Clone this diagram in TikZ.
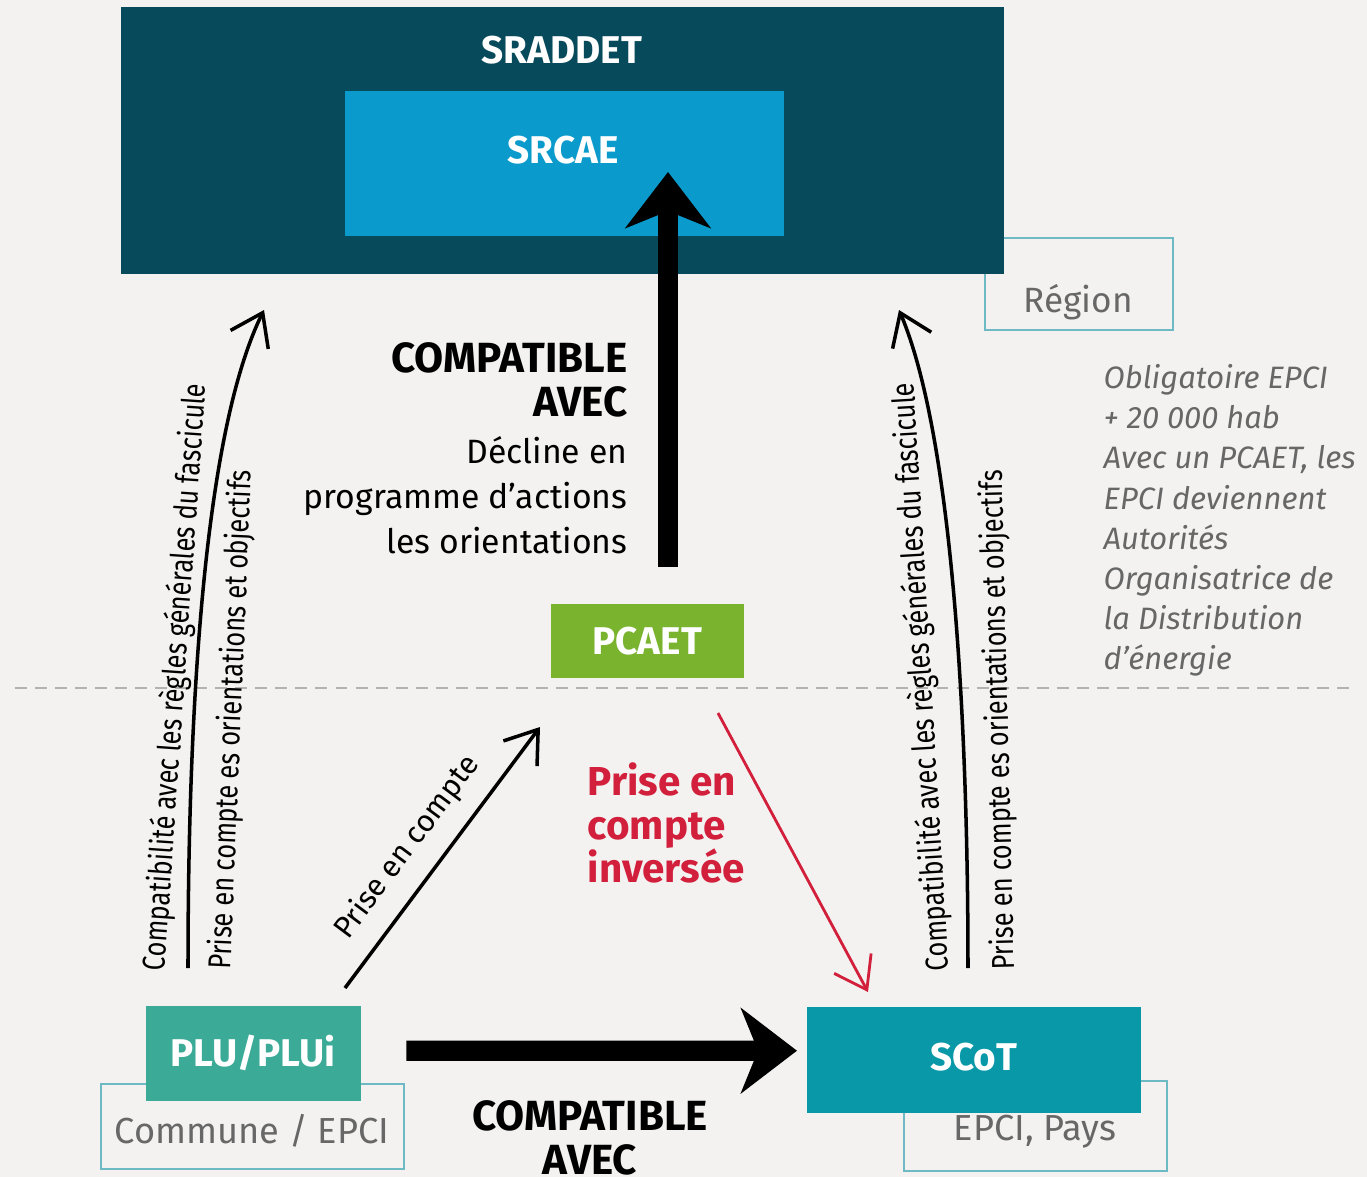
\documentclass[tikz,border=0pt]{standalone}
\usepackage{fontspec}
\setmainfont{Fira Sans}
\newfontfamily\condfont[FakeStretch=0.8]{Fira Sans}
\usepackage{tikz}
\usetikzlibrary{calc, arrows.meta, positioning}
\definecolor{bgcol}{HTML}{F3F2F0}
\definecolor{sraddetcol}{HTML}{074A5B}
\definecolor{srcaecol}{HTML}{0A9ACB}
\definecolor{pcaetcol}{HTML}{7AB32E}
\definecolor{plucol}{HTML}{3BAA97}
\definecolor{scotcol}{HTML}{0898A8}
\definecolor{framecol}{HTML}{6DBAC4}
\definecolor{greytxt}{HTML}{676767}
\definecolor{redcol}{HTML}{D21F3C}
\tikzstyle{block} = [rectangle, inner sep=0pt, text=white, font=\fontsize{11}{13}\selectfont\bfseries]
\tikzstyle{frame} = [rectangle, draw=framecol, line width=0.7pt, inner sep=0pt]
\tikzstyle{frametext} = [inner sep=0pt, text=greytxt, font=\fontsize{10.3}{12}\selectfont]
\tikzstyle{thinarrow} = [line width=1pt, -{Straight Barb[length=3mm,width=4.2mm]}]
\tikzstyle{bigarrow} = [line width=5.8pt, -{Stealth[length=5.6mm,width=8.5mm,inset=1.7mm]}]
\tikzstyle{curvelabel} = [inner sep=0pt, font=\condfont\fontsize{9}{10}\selectfont]
\tikzstyle{bigtext} = [inner sep=0pt, font=\fontsize{12}{12.5}\selectfont\bfseries]

\begin{document}
\begin{tikzpicture}

        \useasboundingbox (0,0) rectangle (13.67,-11.77);
        \fill[bgcol] (0,0) rectangle (13.67,-11.77);

        % region level
        \node (regionframe) [frame, anchor=north west, minimum width=1.88cm, minimum height=0.92cm] at (9.84,-2.37) {};
        \node (region) [frametext, font=\fontsize{10}{12}\selectfont] at (10.78,-3.02) {Région};

        \node (sraddet) [block, fill=sraddetcol, anchor=north west, minimum width=8.83cm, minimum height=2.67cm] at (1.20,-0.06) {};
        \node (sraddettxt) [block] at (5.62,-0.50) {SRADDET};
        \node (srcae) [block, fill=srcaecol, anchor=north west, minimum width=4.39cm, minimum height=1.45cm] at (3.44,-0.90) {};
        \node (srcaetxt) [block] at (5.63,-1.50) {SRCAE};

        \node (obligatoire) [anchor=north west, align=left, text=greytxt, inner sep=0pt,
            font=\fontsize{8.8}{11.4}\selectfont\itshape] at (11.03,-3.64)
            {Obligatoire EPCI\\+ 20 000 hab\\Avec un PCAET, les\\EPCI deviennent\\Autorités\\Organisatrice de\\la Distribution\\d’énergie};

        \draw[gray!60, line width=0.6pt, dash pattern=on 3.4pt off 2.3pt] (0.15,-6.88) -- (13.50,-6.88);

        % PCAET
        \node (pcaet) [block, fill=pcaetcol, anchor=north west, minimum width=1.93cm, minimum height=0.74cm] at (5.50,-6.03) {PCAET};
        \coordinate (pcaetout) at (6.68,-5.67);
        \coordinate (srcaein) at (6.68,-1.72);
        \draw[bigarrow] (pcaetout) -- (srcaein);

        \node (compat) [bigtext, anchor=east, align=right] at (6.28,-3.80) {COMPATIBLE\\AVEC};
        \node (decline) [anchor=east, align=right, inner sep=0pt, font=\fontsize{9.6}{12.8}\selectfont] at (6.28,-4.95)
            {Décline en\\programme d’actions\\les orientations};

        % local level
        \node (communeframe) [frame, anchor=north west, minimum width=3.03cm, minimum height=0.85cm] at (1.00,-10.83) {};
        \node (commune) [frametext] at (2.52,-11.31) {Commune / EPCI};
        \node (plu) [block, fill=plucol, anchor=north west, minimum width=2.15cm, minimum height=0.95cm] at (1.45,-10.05) {PLU/PLUi};

        \node (epciframe) [frame, anchor=north west, minimum width=2.63cm, minimum height=0.90cm] at (9.03,-10.80) {};
        \node (epci) [frametext] at (10.35,-11.32) {EPCI, Pays};
        \node (scot) [block, fill=scotcol, anchor=north west, minimum width=3.34cm, minimum height=1.06cm] at (8.06,-10.06) {\raisebox{0.3ex}{SCoT}};

        \draw[bigarrow] ($(plu.east)+(0.45,0.025)$) -- ($(scot.west)+(-0.09,0.09)$);
        \node (compatbas) [bigtext, align=center] at (5.90,-11.38) {COMPATIBLE\\AVEC};

        % thin arrows
        \coordinate (lcstart) at (1.88,-9.68);
        \coordinate (lcend) at (2.64,-3.10);
        \draw[thinarrow] (lcstart) .. controls (1.88,-7.0) and (2.05,-4.3) .. (lcend);
        \node (lcompat) [curvelabel, rotate=86] at (1.76,-6.77) {Compatibilité avec les règles générales du fascicule};
        \node (lprise) [curvelabel, rotate=87.6] at (2.32,-7.20) {Prise en compte es orientations et objectifs};

        \coordinate (rcstart) at (9.68,-9.68);
        \coordinate (rcend) at (8.99,-3.10);
        \draw[thinarrow] (rcstart) .. controls (9.68,-7.0) and (9.50,-4.3) .. (rcend);
        \node (rcompat) [curvelabel, rotate=93.4] at (9.22,-6.77) {Compatibilité avec les règles générales du fascicule};
        \node (rprise) [curvelabel, rotate=91.4] at (9.99,-7.20) {Prise en compte es orientations et objectifs};

        \coordinate (pluout) at (3.45,-9.88);
        \coordinate (pcaetin) at (5.40,-7.27);
        \draw[thinarrow] (pluout) -- node[pos=0.46, above=5pt, sloped, inner sep=0pt, font=\fontsize{8.6}{10}\selectfont] (prise) {Prise en compte} (pcaetin);

        \coordinate (pcaetred) at (7.18,-7.13);
        \coordinate (scotred) at (8.68,-9.92);
        \draw[thinarrow, redcol, line width=0.8pt] (pcaetred) -- (scotred);
        \node (inverse) [anchor=west, align=left, inner sep=0pt, text=redcol, font=\fontsize{11.5}{12.5}\selectfont\bfseries] at (5.87,-8.23)
            {Prise en\\compte\\inversée};

\end{tikzpicture}
\end{document}
